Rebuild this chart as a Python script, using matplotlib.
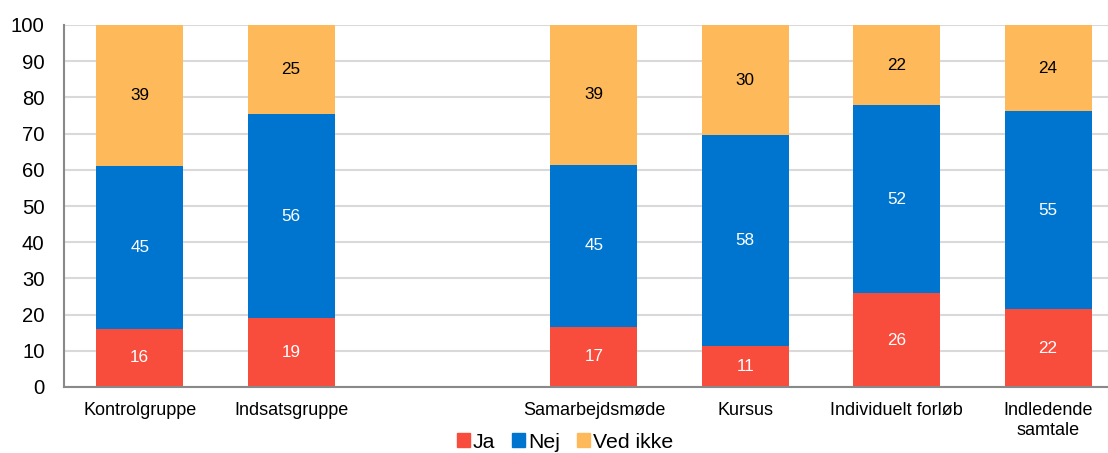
import matplotlib.pyplot as plt
from matplotlib.patches import Patch
import numpy as np

plt.rcParams['font.family'] = ['Liberation Sans', 'DejaVu Sans']

# Data
categories = ["Kontrolgruppe", "Indsatsgruppe", "", "Samarbejdsmøde", "Kursus",
              "Individuelt forløb", "Indledende\nsamtale"]
ja = [16.1, 19.0, np.nan, 16.7, 11.4, 25.9, 21.5]
nej = [45.0, 56.4, np.nan, 44.7, 58.2, 51.9, 54.7]
ved_ikke = [38.9, 24.6, np.nan, 38.6, 30.4, 22.2, 23.8]
series_names = ["Ja", "Nej", "Ved ikke"]
colors = ["#F84C3C", "#0075CF", "#FDB95A"]
text_colors = ["white", "white", "black"]

fig = plt.figure(figsize=(11.08, 4.53), dpi=100)
ax = fig.add_axes([64 / 1108, 1 - 387 / 453, 1044 / 1108, 362 / 453])

x = np.arange(len(categories))
width = 0.575
bottom = np.zeros(len(categories))
for vals, col, tcol in zip([ja, nej, ved_ikke], colors, text_colors):
    vals = np.array(vals, dtype=float)
    ax.bar(x, vals, width, bottom=bottom, color=col, zorder=3)
    for xi, v, b in zip(x, vals, bottom):
        if np.isnan(v):
            continue
        ax.text(xi, b + v / 2, f"{v:.0f}", ha="center", va="center",
                color=tcol, fontsize=12.3, zorder=4)
    bottom = np.nan_to_num(bottom + np.nan_to_num(vals))

ax.set_xlim(-0.5, -0.5 + 1044 / 151.4)
ax.set_ylim(0, 100)
ax.set_yticks(np.arange(0, 101, 10))
ax.tick_params(axis="y", labelsize=14.6, length=0, pad=14)
ax.tick_params(axis="x", labelsize=13, length=0, pad=11)
ax.set_xticks(x)
ax.set_xticklabels(categories, linespacing=1.2)
ax.grid(axis="y", color="#D9D9D9", linewidth=1.5, zorder=0)
for s in ["top", "right"]:
    ax.spines[s].set_visible(False)
for s in ["left", "bottom"]:
    ax.spines[s].set_color("#898989")
    ax.spines[s].set_linewidth(1.5)
    ax.spines[s].set_zorder(5)

handles = [Patch(color=c, label=n) for c, n in zip(colors, series_names)]
fig.legend(handles=handles, loc="center", bbox_to_anchor=(565 / 1108, 1 - 442 / 453),
           ncol=3, frameon=False, fontsize=15.3, handlelength=0.6, handleheight=0.6,
           handletextpad=0.15, columnspacing=0.8, borderaxespad=0)

fig.savefig("out.png", dpi=100)
